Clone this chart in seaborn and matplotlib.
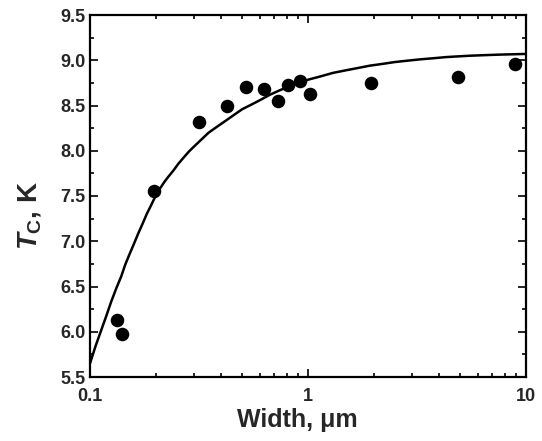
import matplotlib
matplotlib.use("Agg")
import matplotlib.pyplot as plt
import matplotlib.ticker as mticker
import seaborn as sns
import pandas as pd

# measured data points
width_um = [0.1325, 0.1407, 0.197, 0.317, 0.425, 0.518, 0.628, 0.726, 0.812, 0.916, 1.02, 1.94, 4.89, 8.9]
tc_K = [6.13, 5.975, 7.56, 8.32, 8.49, 8.70, 8.68, 8.55, 8.73, 8.77, 8.63, 8.745, 8.82, 8.955]

# fitted curve
fit_width = [0.100, 0.106, 0.1127, 0.119, 0.125, 0.132, 0.139, 0.145, 0.152, 0.159, 0.166, 0.174, 0.182, 0.19,
             0.198, 0.209, 0.22, 0.23, 0.241, 0.255, 0.27, 0.284, 0.298, 0.323, 0.35, 0.385, 0.424, 0.46, 0.5,
             0.55, 0.603, 0.67, 0.745, 0.82, 0.9, 1.0, 1.135, 1.3, 1.5, 1.7, 1.92, 2.2, 2.5, 2.85, 3.27, 3.75,
             4.3, 4.9, 5.53, 6.4, 7.5, 8.7, 10.0]
fit_tc = [5.65, 5.84, 6.02, 6.18, 6.33, 6.48, 6.61, 6.74, 6.86, 6.97, 7.08, 7.19, 7.30, 7.39,
          7.48, 7.58, 7.66, 7.72, 7.78, 7.86, 7.93, 7.99, 8.04, 8.12, 8.20, 8.27, 8.34, 8.40, 8.46,
          8.51, 8.56, 8.62, 8.67, 8.71, 8.75, 8.785, 8.82, 8.86, 8.89, 8.915, 8.94, 8.96, 8.98, 8.995, 9.01, 9.022,
          9.035, 9.043, 9.05, 9.056, 9.062, 9.066, 9.07]

pts = pd.DataFrame({"w": width_um, "tc": tc_K})
fit = pd.DataFrame({"w": fit_width, "tc": fit_tc})

sns.set_style("ticks")
plt.rcParams["font.family"] = ["Liberation Sans", "DejaVu Sans"]
plt.rcParams["font.weight"] = "bold"
plt.rcParams["mathtext.fontset"] = "custom"
plt.rcParams["mathtext.it"] = "Liberation Sans:italic:bold"
plt.rcParams["mathtext.rm"] = "Liberation Sans:bold"
plt.rcParams["mathtext.bf"] = "Liberation Sans:bold"

fig = plt.figure(figsize=(5.42, 4.41), dpi=100)
ax = fig.add_axes([90 / 542, 1 - 377 / 441, 436 / 542, 362 / 441])

sns.lineplot(data=fit, x="w", y="tc", ax=ax, color="black", linewidth=1.8, sort=True, estimator=None)
sns.scatterplot(data=pts, x="w", y="tc", ax=ax, color="black", s=95, edgecolor="black", linewidth=0, zorder=3)

ax.set_xscale("log")
ax.set_xlim(0.1, 10)
ax.set_ylim(5.5, 9.5)
ax.xaxis.set_major_locator(mticker.FixedLocator([0.1, 1, 10]))
ax.xaxis.set_major_formatter(mticker.FixedFormatter(["0.1", "1", "10"]))
ax.xaxis.set_minor_locator(mticker.LogLocator(base=10, subs=range(2, 10)))
ax.xaxis.set_minor_formatter(mticker.NullFormatter())
ax.yaxis.set_major_locator(mticker.MultipleLocator(0.5))
ax.yaxis.set_minor_locator(mticker.MultipleLocator(0.25))
ax.yaxis.set_major_formatter(mticker.FormatStrFormatter("%.1f"))

for side in ["top", "right", "bottom", "left"]:
    ax.spines[side].set_visible(True)
    ax.spines[side].set_linewidth(1.6)
    ax.spines[side].set_color("black")

ax.tick_params(which="both", direction="in", top=True, right=True, color="black", width=1.2)
ax.tick_params(which="major", length=5.5)
ax.tick_params(which="minor", length=3)
ax.tick_params(axis="y", which="major", pad=3.5)
ax.tick_params(axis="x", which="major", pad=8)
for lbl in ax.get_xticklabels() + ax.get_yticklabels():
    lbl.set_fontweight("bold")
    lbl.set_fontsize(13)

ax.set_xlabel("Width, \u03bcm", fontsize=18, fontweight="bold")
ax.set_ylabel(r"$\it{T}_{\rm{C}}$, K", fontsize=20, fontweight="bold")
ax.xaxis.set_label_coords(0.476, -0.086)
ax.yaxis.set_label_coords(-0.107, 0.447)

fig.savefig("out.png", dpi=100)
